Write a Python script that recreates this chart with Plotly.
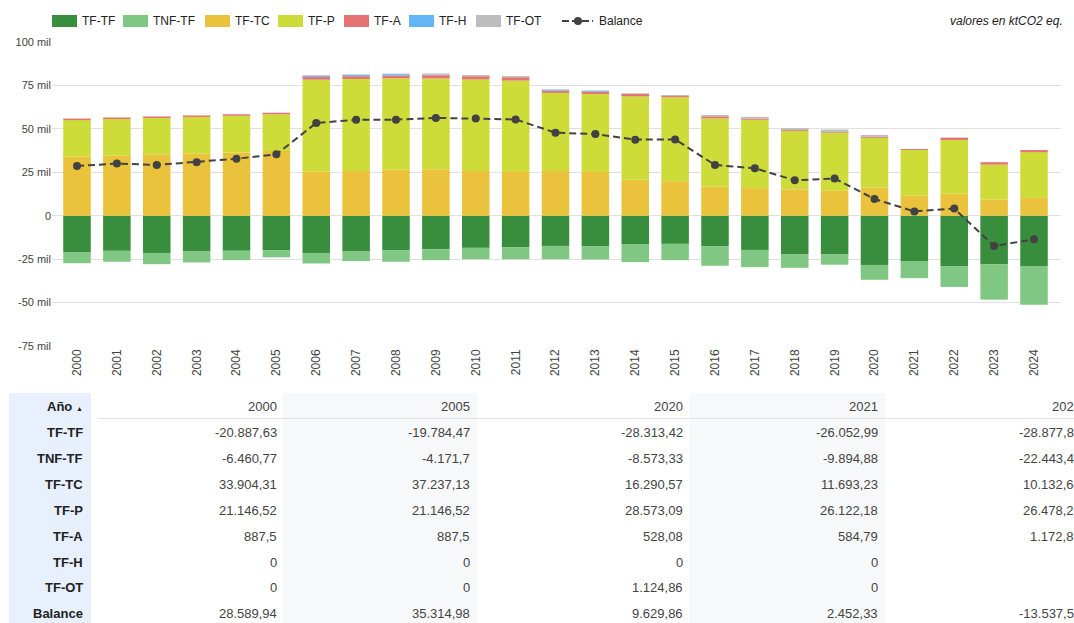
import plotly.graph_objects as go

# ---------------- data (ktCO2 eq.) ----------------
years = [str(y) for y in range(2000, 2025)]

tf_tf = [-20887.63, -20200, -21400, -20600, -20200, -19784.47, -21400, -20600, -19800, -19300,
         -18500, -18100, -17400, -17700, -16600, -16200, -17700, -19700, -22300, -22300,
         -28313.42, -26052.99, -29000, -27900, -28877.81]
tnf_tf = [-6460.77, -6300, -6500, -6300, -5400, -4171.7, -6100, -5500, -6700, -6300,
          -6500, -6900, -7600, -7500, -10100, -9400, -11100, -9900, -7700, -5900,
          -8573.33, -9894.88, -12000, -20400, -22443.42]
tf_tc = [33904.31, 34500, 35100, 35700, 36400, 37237.13, 25300, 25800, 26400, 26800,
         25800, 25100, 25700, 25100, 20700, 19900, 16800, 15900, 15200, 14400,
         16290.57, 11693.23, 12700, 9400, 10132.64]
tf_p = [21146.52, 21146.52, 21146.52, 21146.52, 21146.52, 21146.52, 53000, 52900, 52700, 52200,
        52700, 52700, 45000, 45000, 48000, 48300, 39200, 39300, 33600, 33300,
        28573.09, 26122.18, 30900, 20000, 26478.21]
tf_a = [887.5, 887.5, 887.5, 887.5, 887.5, 887.5, 1600, 1600, 1600, 1900,
        1800, 1900, 1300, 1300, 1400, 700, 1200, 700, 500, 400,
        528.08, 584.79, 1200, 1400, 1172.85]
tf_h = [0, 0, 0, 0, 0, 0, 500, 700, 800, 300,
        0, 0, 600, 500, 0, 0, 0, 0, 0, 0,
        0, 0, 0, 0, 0]
tf_ot = [0, 0, 0, 0, 0, 0, 500, 300, 300, 700,
         700, 700, 200, 300, 400, 600, 800, 1000, 1100, 1500,
         1124.86, 0, 300, 0, 0]
balance = [28589.94, 30034.02, 29234.02, 30834.02, 32834.02, 35314.98, 53400, 55200, 55300, 56300,
           56000, 55400, 47800, 47000, 43800, 43900, 29200, 27300, 20400, 21400,
           9629.86, 2452.33, 4100, -17500, -13537.53]

series_names = ["TF-TF", "TNF-TF", "TF-TC", "TF-P", "TF-A", "TF-H", "TF-OT"]
series_values = [tf_tf, tnf_tf, tf_tc, tf_p, tf_a, tf_h, tf_ot]
series_colors = ["#388e3c", "#81c784", "#eac23c", "#cddc39", "#e57373", "#64b5f6", "#bdbdbd"]

y_tickvals = [-75000, -50000, -25000, 0, 25000, 50000, 75000, 100000]
y_ticktext = ["-75 mil", "-50 mil", "-25 mil", "0", "25 mil", "50 mil", "75 mil", "100 mil"]

table_years = ["2000", "2005", "2020", "2021", "2024"]
unit_note = "valores en ktCO2 eq."

# ---------------- layout geometry (pixels) ----------------
W, H = 1074, 623
L, R, T, B = 52, 1061, 42, 346
FONT = "Liberation Sans, Arial, sans-serif"


def fx(px):
    return (px - L) / (R - L)


def fy(py):
    return (B - py) / (B - T)


fig = go.Figure()
for name, vals, col in zip(series_names, series_values, series_colors):
    fig.add_trace(go.Bar(x=years, y=vals, name=name, marker=dict(color=col, line=dict(width=0)),
                         width=0.69, showlegend=False))

fig.add_trace(go.Scatter(x=years, y=balance, name="Balance", mode="lines+markers",
                         line=dict(color="#424242", width=2, dash="7px,4px"),
                         marker=dict(color="#424242", size=8), showlegend=False))

shapes = []
annotations = []

# ---- custom legend ----
legend_pos = [(52, 82), (123, 153), (205, 235), (278, 308), (344, 374), (409, 439), (476, 506)]
for (sx, tx), name, col in zip(legend_pos, series_names, series_colors):
    shapes.append(dict(type="rect", xref="paper", yref="paper", x0=fx(sx), x1=fx(sx + 25),
                       y0=fy(27), y1=fy(15), fillcolor=col, line=dict(width=0), layer="above"))
    annotations.append(dict(xref="paper", yref="paper", x=fx(tx), y=fy(21), text=name,
                            showarrow=False, xanchor="left", yanchor="middle", borderpad=0,
                            borderwidth=0, font=dict(family=FONT, size=12, color="#222")))
shapes.append(dict(type="line", xref="paper", yref="paper", x0=fx(562), x1=fx(593),
                   y0=fy(21), y1=fy(21), line=dict(color="#424242", width=2, dash="7px,3px"),
                   layer="above"))
shapes.append(dict(type="circle", xref="paper", yref="paper", x0=fx(574), x1=fx(582),
                   y0=fy(25), y1=fy(17), fillcolor="#424242", line=dict(width=0), layer="above"))
annotations.append(dict(xref="paper", yref="paper", x=fx(599), y=fy(21), text="Balance",
                        showarrow=False, xanchor="left", yanchor="middle", borderpad=0,
                        borderwidth=0, font=dict(family=FONT, size=12, color="#222")))
annotations.append(dict(xref="paper", yref="paper", x=fx(1063), y=fy(21), text="<i>" + unit_note + "</i>",
                        showarrow=False, xanchor="right", yanchor="middle", borderpad=0,
                        borderwidth=0, font=dict(family=FONT, size=12, color="#222")))

# ---- table below chart ----
def fmt(v):
    s = f"{abs(v):,.2f}"
    ip, dp = s.split(".")
    ip = ip.replace(",", ".")
    dp = dp.rstrip("0")
    out = ip + ("," + dp if dp else "")
    return ("-" if v < 0 and out != "0" else "") + out


TOP = 393
shapes.append(dict(type="rect", xref="paper", yref="paper", x0=fx(9), x1=fx(91),
                   y0=fy(H + 5), y1=fy(TOP), fillcolor="#e8f0fe", line=dict(width=0), layer="below"))
for c0, c1 in [(283, 477), (689, 886)]:
    shapes.append(dict(type="rect", xref="paper", yref="paper", x0=fx(c0), x1=fx(c1),
                       y0=fy(H + 5), y1=fy(TOP), fillcolor="#f7f8fa", line=dict(width=0), layer="below"))
shapes.append(dict(type="line", xref="paper", yref="paper", x0=fx(98), x1=fx(W + 10),
                   y0=fy(418.5), y1=fy(418.5), line=dict(color="#e2e2e2", width=1), layer="below"))

col_right = [277, 470, 683, 878, 1081]
header_y = 406.5
row_y0, row_step = 432.5, 25.9

annotations.append(dict(xref="paper", yref="paper", x=fx(83), y=fy(header_y),
                        text="<b>Año</b> <span style='font-size:7px'>▲</span>",
                        showarrow=False, xanchor="right", yanchor="middle", borderpad=0, borderwidth=0,
                        font=dict(family=FONT, size=13, color="#222")))
for cx, yr in zip(col_right, table_years):
    annotations.append(dict(xref="paper", yref="paper", x=fx(cx), y=fy(header_y), text=yr,
                            showarrow=False, xanchor="right", yanchor="middle", borderpad=0, borderwidth=0,
                            font=dict(family=FONT, size=13, color="#444")))

row_labels = series_names + ["Balance"]
row_values = series_values + [balance]
for r, (lab, vals) in enumerate(zip(row_labels, row_values)):
    yy = row_y0 + r * row_step
    annotations.append(dict(xref="paper", yref="paper", x=fx(83), y=fy(yy), text="<b>" + lab + "</b>",
                            showarrow=False, xanchor="right", yanchor="middle", borderpad=0, borderwidth=0,
                            font=dict(family=FONT, size=13, color="#222")))
    for cx, yr in zip(col_right, table_years):
        v = vals[years.index(yr)]
        annotations.append(dict(xref="paper", yref="paper", x=fx(cx), y=fy(yy), text=fmt(v),
                                showarrow=False, xanchor="right", yanchor="middle", borderpad=0,
                                borderwidth=0, font=dict(family=FONT, size=13, color="#444")))

fig.update_layout(
    width=W, height=H, autosize=False,
    margin=dict(l=L, r=W - R, t=T, b=H - B, pad=0),
    barmode="relative",
    plot_bgcolor="white", paper_bgcolor="white",
    font=dict(family=FONT, size=11, color="#444"),
    shapes=shapes, annotations=annotations,
    hovermode=False,
)
fig.update_xaxes(type="category", range=[-0.627, 24.677], showgrid=False, showline=False,
                 zeroline=False, tickangle=-90, tickfont=dict(family=FONT, size=12, color="#444"),
                 ticks="", fixedrange=True)
fig.update_yaxes(range=[-75000, 100000], tickvals=y_tickvals, ticktext=y_ticktext,
                 showgrid=True, gridcolor="#e0e0e0", gridwidth=1, zeroline=True,
                 zerolinecolor="#e0e0e0", zerolinewidth=1, showline=False, ticks="",
                 tickfont=dict(family=FONT, size=11, color="#444"), fixedrange=True)

fig.write_html("out.html", config={"displayModeBar": False, "staticPlot": True},
               post_script="document.body.style.margin='0';")
